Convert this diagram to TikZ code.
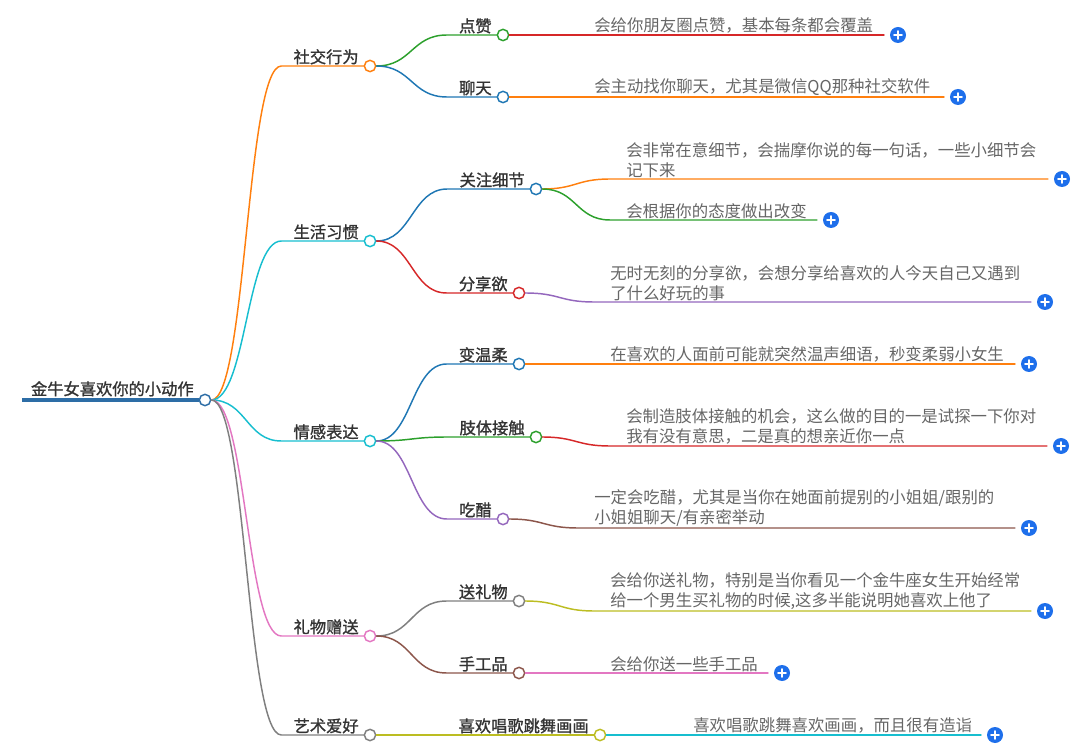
\documentclass[tikz,border=0pt]{standalone}
\usepackage{fontspec}
\setmainfont{Noto Sans CJK SC}
\newfontfamily\boldcjk{Noto Sans CJK SC}[FakeBold=1.2]
\usetikzlibrary{calc}
\definecolor{tblue}{HTML}{1F77B4}
\definecolor{torange}{HTML}{FF7F0E}
\definecolor{tgreen}{HTML}{2CA02C}
\definecolor{tred}{HTML}{D62728}
\definecolor{tpurple}{HTML}{9467BD}
\definecolor{tbrown}{HTML}{8C564B}
\definecolor{tpink}{HTML}{E377C2}
\definecolor{tgray}{HTML}{7F7F7F}
\definecolor{tolive}{HTML}{BCBD22}
\definecolor{tcyan}{HTML}{17BECF}
\definecolor{rootblue}{HTML}{2D6DA6}
\definecolor{plusblue}{HTML}{1E6FEB}
\definecolor{lbltext}{HTML}{333333}
\definecolor{notetext}{HTML}{666666}
\tikzset{
  wire/.style={draw=#1,line width=1.1pt},
  dot/.style={circle,draw=#1,fill=white,line width=1.1pt,minimum size=8.5pt,inner sep=0pt},
  lbl/.style={anchor=south east,inner sep=0pt,text=lbltext,font=\boldcjk\fontsize{12.2}{15}\selectfont},
  note/.style={anchor=south west,inner sep=0pt,align=left,text=notetext,font=\fontsize{12.3}{15}\selectfont},
  plus/.style={circle,fill=plusblue,minimum size=12pt,inner sep=0pt,
    path picture={\draw[white,line width=1.3pt]
      ([xshift=-3pt]path picture bounding box.center) -- ([xshift=3pt]path picture bounding box.center)
      ([yshift=-3pt]path picture bounding box.center) -- ([yshift=3pt]path picture bounding box.center);}},
}
% curved link: from #3 to the text #4, then flat to #5
\newcommand\link[5][9pt]{%
  \draw[wire=#2] let \p1=(#3.east), \p2=(#4.west), \p3=(#5) in
    (\p1) .. controls ({(\x1+\x2-#1)/2},\y1) and ({(\x1+\x2-#1)/2},\y3) .. (\x2-#1,\y3) -- (#5);}
\begin{document}
\begin{tikzpicture}[x=0.75pt,y=-0.75pt,line cap=round]
\useasboundingbox (0,0) rectangle (1085,748);
% root
\node[dot=rootblue] (root) at (205,400) {};
\coordinate (rootstart) at (22,400);
\node[lbl,font=\boldcjk\fontsize{12.2}{15}\selectfont] (roott) at ([xshift=-3.5pt,yshift=2.5pt]root.west) {金牛女喜欢你的小动作};
\draw[wire=rootblue,line width=3pt,line cap=butt] (rootstart) -- (root.west);
% first level
\node[dot=torange] (social) at (370,66) {};
\node[dot=tcyan] (life) at (370,241) {};
\node[dot=tcyan] (emotion) at (370,441) {};
\node[dot=tpink] (gift) at (370,636) {};
\node[dot=tgray] (art) at (370,735) {};
\node[lbl] (socialt) at ([xshift=-3.5pt,yshift=1pt]social.west) {社交行为};
\node[lbl] (lifet) at ([xshift=-3.5pt,yshift=1pt]life.west) {生活习惯};
\node[lbl] (emotiont) at ([xshift=-3.5pt,yshift=1pt]emotion.west) {情感表达};
\node[lbl] (giftt) at ([xshift=-3.5pt,yshift=1pt]gift.west) {礼物赠送};
\node[lbl] (artt) at ([xshift=-3.5pt,yshift=1pt]art.west) {艺术爱好};
% second level
\node[dot=tgreen] (like) at (503,35) {};
\node[dot=tblue] (chat) at (503,97) {};
\node[dot=tblue] (detail) at (536,189) {};
\node[dot=tred] (share) at (519,293) {};
\node[dot=tblue] (soft) at (519,364) {};
\node[dot=tgreen] (touch) at (536,437) {};
\node[dot=tpurple] (jealous) at (503,519) {};
\node[dot=tgray] (present) at (519,601) {};
\node[dot=tbrown] (craft) at (519,673) {};
\node[dot=tolive] (hobby) at (600,735) {};
\node[lbl] (liket) at ([xshift=-3.5pt,yshift=1pt]like.west) {点赞};
\node[lbl] (chatt) at ([xshift=-3.5pt,yshift=1pt]chat.west) {聊天};
\node[lbl] (detailt) at ([xshift=-3.5pt,yshift=1pt]detail.west) {关注细节};
\node[lbl] (sharet) at ([xshift=-3.5pt,yshift=1pt]share.west) {分享欲};
\node[lbl] (softt) at ([xshift=-3.5pt,yshift=1pt]soft.west) {变温柔};
\node[lbl] (toucht) at ([xshift=-3.5pt,yshift=1pt]touch.west) {肢体接触};
\node[lbl] (jealoust) at ([xshift=-3.5pt,yshift=1pt]jealous.west) {吃醋};
\node[lbl] (presentt) at ([xshift=-3.5pt,yshift=1pt]present.west) {送礼物};
\node[lbl] (craftt) at ([xshift=-3.5pt,yshift=1pt]craft.west) {手工品};
\node[lbl] (hobbyt) at ([xshift=-3.5pt,yshift=1pt]hobby.west) {喜欢唱歌跳舞画画};
% notes
\node[note] (likenote) at (594,34) {会给你朋友圈点赞，基本每条都会覆盖};
\node[note] (chatnote) at (594,96) {会主动找你聊天，尤其是微信QQ那种社交软件};
\node[note] (detailnote) at (626,178) {会非常在意细节，会揣摩你说的每一句话，一些小细节会\\记下来};
\node[note] (moodnote) at (626,219) {会根据你的态度做出改变};
\node[note] (sharenote) at (610,301) {无时无刻的分享欲，会想分享给喜欢的人今天自己又遇到\\了什么好玩的事};
\node[note] (softnote) at (610,363) {在喜欢的人面前可能就突然温声细语，秒变柔弱小女生};
\node[note] (touchnote) at (626,445) {会制造肢体接触的机会，这么做的目的一是试探一下你对\\我有没有意思，二是真的想亲近你一点};
\node[note] (jealousnote) at (594,527) {一定会吃醋，尤其是当你在她面前提别的小姐姐/跟别的\\小姐姐聊天/有亲密举动};
\node[note] (presentnote) at (610,610) {会给你送礼物，特别是当你看见一个金牛座女生开始经常\\给一个男生买礼物的时候,这多半能说明她喜欢上他了};
\node[note] (craftnote) at (610,672) {会给你送一些手工品};
\node[note] (hobbynote) at (693,734) {喜欢唱歌跳舞喜欢画画，而且很有造诣};
\coordinate (likeend) at (884,35);
\coordinate (chatend) at (944,97);
\coordinate (detailend) at (1048,179);
\coordinate (moodend) at (817,220);
\coordinate (shareend) at (1031,302);
\coordinate (softend) at (1015,364);
\coordinate (touchend) at (1047,446);
\coordinate (jealousend) at (1015,528);
\coordinate (presentend) at (1031,611);
\coordinate (craftend) at (768,673);
\coordinate (hobbyend) at (981,735);
\node[plus] (likeplus) at (898,35) {};
\node[plus] (chatplus) at (958,97) {};
\node[plus] (detailplus) at (1062,179) {};
\node[plus] (moodplus) at (831,220) {};
\node[plus] (shareplus) at (1045,302) {};
\node[plus] (softplus) at (1029,364) {};
\node[plus] (touchplus) at (1061,446) {};
\node[plus] (jealousplus) at (1029,528) {};
\node[plus] (presentplus) at (1045,611) {};
\node[plus] (craftplus) at (782,673) {};
\node[plus] (hobbyplus) at (995,735) {};
% links
\link{torange}{root}{socialt}{social.west}
\link{tcyan}{root}{lifet}{life.west}
\link{tcyan}{root}{emotiont}{emotion.west}
\link{tpink}{root}{giftt}{gift.west}
\link{tgray}{root}{artt}{art.west}
\link{tgreen}{social}{liket}{like.west}
\link{tblue}{social}{chatt}{chat.west}
\link{tblue}{life}{detailt}{detail.west}
\link{tred}{life}{sharet}{share.west}
\link{tblue}{emotion}{softt}{soft.west}
\link{tgreen}{emotion}{toucht}{touch.west}
\link{tpurple}{emotion}{jealoust}{jealous.west}
\link{tgray}{gift}{presentt}{present.west}
\link{tbrown}{gift}{craftt}{craft.west}
\link{tolive}{art}{hobbyt}{hobby.west}
\link[12pt]{tred}{like}{likenote}{likeend}
\link[12pt]{torange}{chat}{chatnote}{chatend}
\link[12pt]{torange}{detail}{detailnote}{detailend}
\link[12pt]{tgreen}{detail}{moodnote}{moodend}
\link[12pt]{tpurple}{share}{sharenote}{shareend}
\link[12pt]{torange}{soft}{softnote}{softend}
\link[12pt]{tred}{touch}{touchnote}{touchend}
\link[12pt]{tbrown}{jealous}{jealousnote}{jealousend}
\link[12pt]{tolive}{present}{presentnote}{presentend}
\link[12pt]{tpink}{craft}{craftnote}{craftend}
\link[12pt]{tcyan}{hobby}{hobbynote}{hobbyend}
\end{tikzpicture}
\end{document}
